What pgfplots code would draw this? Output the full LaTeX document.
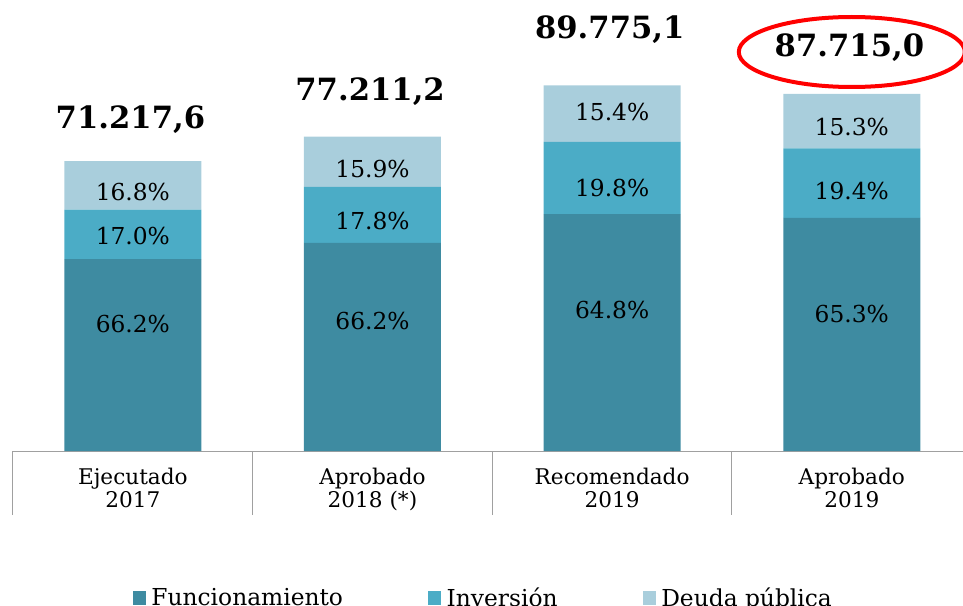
\documentclass[border=0pt]{standalone}
\usepackage{pgfplots}
\pgfplotsset{compat=1.18}
\usepackage{fontspec}
\setmainfont{DejaVu Serif}
\definecolor{func}{HTML}{3E8BA1}
\definecolor{inv}{HTML}{4BACC6}
\definecolor{deu}{HTML}{A9CEDC}
\definecolor{axgray}{HTML}{A0A0A0}
\tikzset{
 lab/.style={font=\fontsize{17.5pt}{18pt}\selectfont},
 tot/.style={font=\fontsize{23pt}{24pt}\selectfont\bfseries},
}
\newcommand\barlabels{%
\draw[axgray, line width=0.75pt] (axis cs:-0.5,0) -- ++(0pt,-48pt);
\draw[axgray, line width=0.75pt] (axis cs:0.5,0) -- ++(0pt,-48pt);
\draw[axgray, line width=0.75pt] (axis cs:1.5,0) -- ++(0pt,-48pt);
\draw[axgray, line width=0.75pt] (axis cs:2.5,0) -- ++(0pt,-48pt);
\node[lab] at (axis cs:0,31191) {66.2\%};
\node[lab] at (axis cs:0,52804) {17.0\%};
\node[lab] at (axis cs:0,63684) {16.8\%};
\node[lab] at (axis cs:1,31928) {66.2\%};
\node[lab] at (axis cs:1,56488) {17.8\%};
\node[lab] at (axis cs:1,69333) {15.9\%};
\node[lab] at (axis cs:2,34630) {64.8\%};
\node[lab] at (axis cs:2,64593) {19.8\%};
\node[lab] at (axis cs:2,83258) {15.4\%};
\node[lab] at (axis cs:3,33647) {65.3\%};
\node[lab] at (axis cs:3,63856) {19.4\%};
\node[lab] at (axis cs:3,79574) {15.3\%};
\node[tot] at (axis cs:-0.01,81490) {71.217,6};
\node[tot] at (axis cs:0.99,88244) {77.211,2};
\node[tot] at (axis cs:1.99,103398) {89.775,1};
\node[tot] at (axis cs:2.99,98977) {87.715,0};
\draw[red, line width=3pt] (axis cs:3.0,97994) ellipse [x radius=84.75pt, y radius=26.25pt];
}
\begin{document}
\begin{tikzpicture}
\useasboundingbox (-9.75pt,-116.25pt) rectangle (712.5pt,338.25pt);
\begin{axis}[
 at={(0,0)}, anchor=south west,
 scale only axis, width=712.5pt, height=338.25pt,
 xmin=-0.5, xmax=3.464, ymin=0, ymax=110766,
 ybar stacked, bar width=102.75pt,
 axis y line=none, axis x line*=bottom,
 x axis line style={draw=axgray, line width=0.75pt},
 xtick={0,1,2,3},
 xticklabels={{Ejecutado\\2017},{Aprobado\\2018 (*)},{Recomendado\\2019},{Aprobado\\2019}},
 xtick style={draw=none},
 xticklabel style={align=center, font=\fontsize{16.2pt}{17pt}\selectfont, inner sep=0pt, yshift=-12.5pt},
 clip=false,
 legend columns=3,
 legend image code/.code={\fill[#1] (0pt,-5pt) rectangle (9.75pt,5pt);},
 legend style={draw=none, fill=none, at={(axis cs:0,-36103)}, anchor=west,
   font=\fontsize{17.5pt}{18pt}\selectfont, inner sep=0pt,
   /tikz/every even column/.append style={column sep=62pt}},
 after end axis/.code={\barlabels},
]
\addplot[fill=func, draw=none] coordinates {(0,47146.1) (1,51113.8) (2,58174.3) (3,57277.9)};
\addlegendentry{\hspace{2pt}Funcionamiento}
\addplot[fill=inv, draw=none] coordinates {(0,12107.0) (1,13743.6) (2,17775.5) (3,17016.7)};
\addlegendentry{\hspace{2pt}Inversión}
\addplot[fill=deu, draw=none] coordinates {(0,11964.6) (1,12353.8) (2,13825.3) (3,13420.4)};
\addlegendentry{\hspace{2pt}Deuda pública}
\end{axis}
\end{tikzpicture}
\end{document}
